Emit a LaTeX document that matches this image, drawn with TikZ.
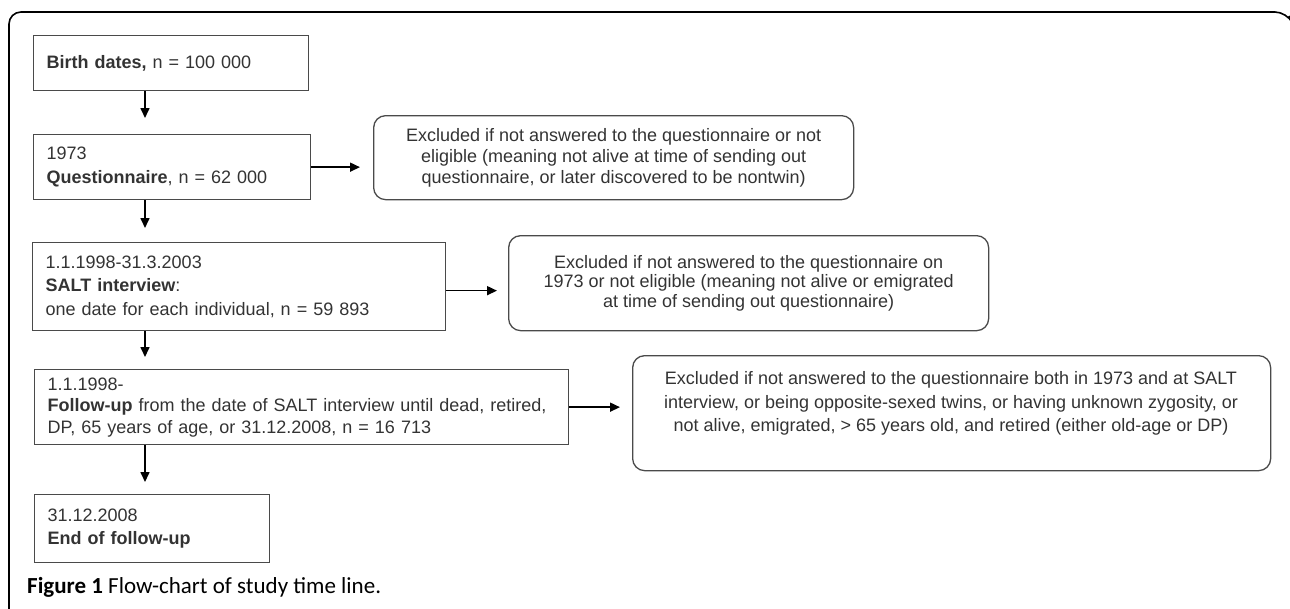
\documentclass[tikz,border=0pt]{standalone}
\usepackage{fontspec}
\setmainfont{Liberation Sans}
\newfontfamily\capfont{Carlito}
\usetikzlibrary{arrows.meta}
\definecolor{boxgray}{HTML}{4A4A4A}
\definecolor{txtgray}{HTML}{333333}
\begin{document}
\begin{tikzpicture}[x=1pt,y=-1pt,
  box/.style={draw=boxgray, line width=1.3pt, anchor=north west, inner xsep=13pt, inner ysep=0pt,
    align=left, font=\fontsize{18}{23.5}\selectfont, text=txtgray},
  excl/.style={draw=boxgray, line width=1.3pt, rounded corners=12pt, anchor=north west,
    align=center, font=\fontsize{18}{21}\selectfont, text=txtgray, inner sep=0pt},
  arr/.style={-{Triangle[length=10pt,width=9pt]}, line width=1.6pt, black, shorten >=13pt}
]
\useasboundingbox (0,0) rectangle (1290,608);
% outer frame
\draw[line width=1.6pt, rounded corners=12pt] (9,612) -- (9,12) -- (1287,12) -- (1289,16);

% main column
\node[box, text width=249pt, minimum height=55pt] (b1) at (33,35)
  {\textbf{Birth dates,} n = 100 000};
\node[box, text width=251pt, minimum height=65pt] (b2) at (33,134)
  {1973\\\textbf{Questionnaire}, n = 62 000};
\node[box, text width=387pt, minimum height=88pt] (b3) at (32,242)
  {1.1.1998-31.3.2003\\\textbf{SALT interview}:\\one date for each individual, n = 59 893};
\node[box, text width=508pt, minimum height=75pt, font=\fontsize{18}{21.5}\selectfont] (b4) at (34,369)
  {1.1.1998-\\\mbox{\textbf{Follow-up} from the date of SALT interview until dead, retired,}\\DP, 65 years of age, or 31.12.2008, n = 16 713};
\node[box, text width=209pt, minimum height=68pt] (b5) at (34,494)
  {31.12.2008\\\textbf{End of follow-up}};

% exclusion boxes
\node[excl, minimum width=480pt, minimum height=84pt] (e1) at (373,115)
  {Excluded if not answered to the questionnaire or not\\eligible (meaning not alive at time of sending out\\questionnaire, or later discovered to be nontwin)};
\node[excl, minimum width=480pt, minimum height=95pt, font=\fontsize{18}{19.5}\selectfont] (e2) at (508,235)
  {Excluded if not answered to the questionnaire on\\1973 or not eligible (meaning not alive or emigrated\\at time of sending out questionnaire)};
\node[excl, minimum width=638pt, minimum height=115pt] (e3) at (632,355) {};
\node[anchor=north, inner sep=0pt, align=center, text=txtgray, font=\fontsize{18}{23.5}\selectfont] (e3t) at (951,371.5)
  {Excluded if not answered to the questionnaire both in 1973 and at SALT\\interview, or being opposite-sexed twins, or having unknown zygosity, or\\not alive, emigrated, > 65 years old, and retired (either old-age or DP)};

% connectors
\coordinate (ax) at (145,0);
\draw[arr, shorten >=16pt] (b1.south -| ax) -- (b2.north -| ax);
\draw[arr, shorten >=14pt] (b2.south -| ax) -- (b3.north -| ax);
\draw[arr, shorten >=12pt] (b3.south -| ax) -- (b4.north -| ax);
\draw[arr, shorten >=12pt] (b4.south -| ax) -- (b5.north -| ax);
\draw[arr] (b2.east) -- (b2.east -| e1.west);
\draw[arr, shorten >=11pt] ([yshift=-4pt]b3.east) -- ([yshift=-4pt]b3.east -| e2.west);
\draw[arr, shorten >=12pt] (b4.east) -- (b4.east -| e3.west);

% caption
\node[anchor=base west, inner sep=0pt, font=\capfont\fontsize{23}{27}\selectfont] (cap) at (27,593)
  {\textbf{Figure 1} Flow-chart of study time line.};
\end{tikzpicture}
\end{document}
